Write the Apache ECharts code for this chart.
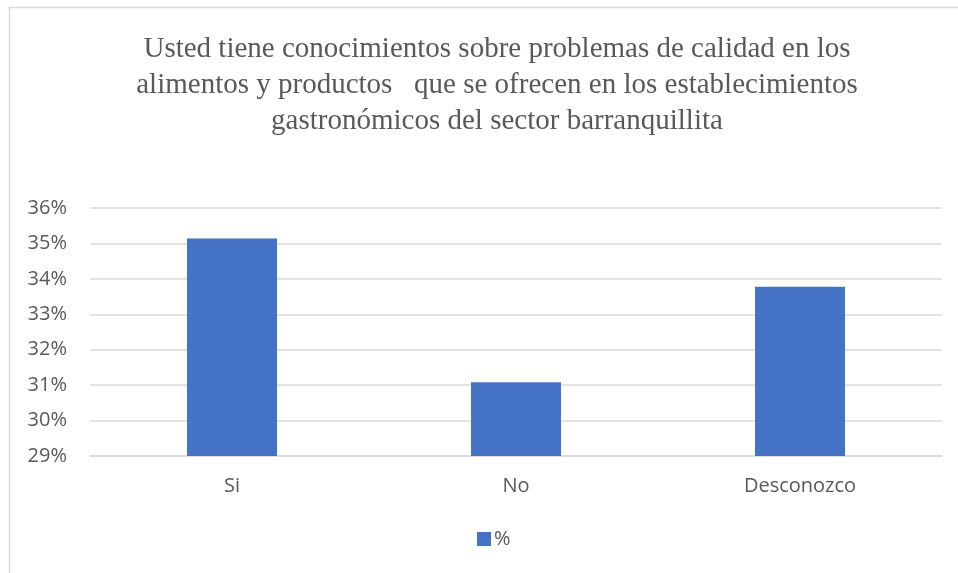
<!DOCTYPE html>
<html>
<head>
<meta charset="utf-8">
<script src="https://cdn.jsdelivr.net/npm/echarts@6/dist/echarts.min.js"></script>
<style>
  html, body { margin: 0; padding: 0; background: #fff; }
  #chart { width: 958px; height: 573px; }
</style>
</head>
<body>
<div id="chart"></div>
<script>
// datos
var categorias = ['Si', 'No', 'Desconozco'];
var porcentajes = [35.14, 31.08, 33.78];
var ticksY = ['29%', '30%', '31%', '32%', '33%', '34%', '35%', '36%'];
var titulo = 'Usted tiene conocimientos sobre problemas de calidad en los\nalimentos y productos   que se ofrecen en los establecimientos\ngastronómicos del sector barranquillita';

var chart = echarts.init(document.getElementById('chart'));

var option = {
    backgroundColor: '#fff',
    animation: false,
    // marco del gráfico (recortado a la derecha y abajo)
    graphic: [{
        type: 'rect',
        shape: { x: 9.5, y: 7.5, width: 1000, height: 700 },
        style: { fill: 'none', stroke: '#d9d9d9', lineWidth: 1.5 },
        silent: true
    }],
    title: {
        text: titulo,
        left: 492,
        textAlign: 'center',
        top: 26,
        textStyle: {
            fontFamily: 'Liberation Serif',
            fontWeight: 'normal',
            fontSize: 29,
            lineHeight: 36,
            color: '#595959'
        }
    },
    legend: {
        data: ['%'],
        left: 477,
        top: 529,
        padding: 0,
        itemWidth: 14,
        itemHeight: 14,
        itemGap: 6,
        icon: 'rect',
        textStyle: {
            fontFamily: 'Open Sans',
            fontSize: 20,
            color: '#595959',
            padding: [0, 0, 0, -2]
        }
    },
    grid: {
        left: 90,
        right: 16,
        top: 208,
        bottom: 117,
        containLabel: false
    },
    xAxis: {
        type: 'category',
        data: categorias,
        axisLine: { lineStyle: { color: '#d9d9d9', width: 1.5 } },
        axisTick: { show: false },
        axisLabel: {
            fontFamily: 'Open Sans',
            fontSize: 20,
            color: '#595959',
            margin: 20
        }
    },
    yAxis: {
        type: 'value',
        min: 29,
        max: 36,
        interval: 1,
        axisLine: { show: false },
        axisTick: { show: false },
        splitLine: { lineStyle: { color: '#d9d9d9', width: 1.5 } },
        axisLabel: {
            fontFamily: 'Open Sans',
            fontSize: 20,
            color: '#595959',
            margin: 23,
            formatter: function (v) { return ticksY[Math.round(v - 29)]; }
        }
    },
    series: [{
        name: '%',
        type: 'bar',
        data: porcentajes,
        barWidth: 90,
        itemStyle: { color: '#4472c4' }
    }]
};

chart.setOption(option);
</script>
</body>
</html>
